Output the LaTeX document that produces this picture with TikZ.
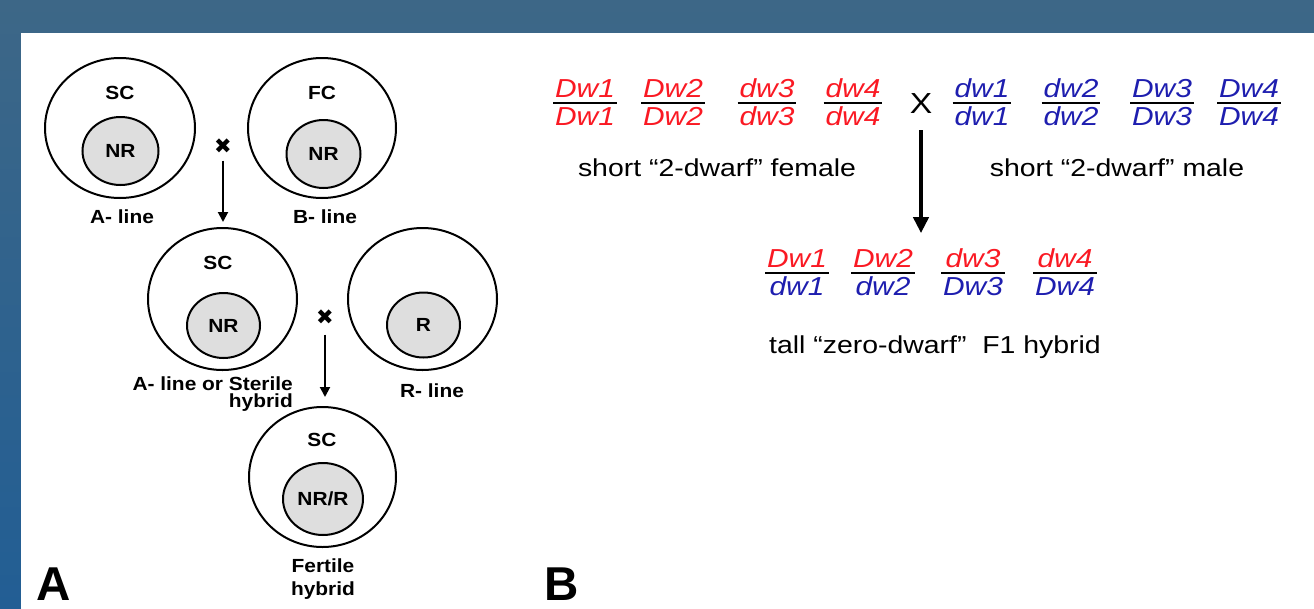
\documentclass[tikz,border=0pt]{standalone}
\usepackage{fontspec}
\setmainfont{Liberation Sans}
\newfontfamily\lblfont[FakeStretch=1.1]{Liberation Sans}
\newfontfamily\genefont[FakeStretch=1.15]{Liberation Sans}
\newfontfamily\capfont[FakeStretch=1.16]{Liberation Sans}
\newfontfamily\symfont{DejaVu Sans}
\usetikzlibrary{shapes.geometric,arrows.meta,fit}
\definecolor{bgtop}{HTML}{3D6787}
\definecolor{bgbot}{HTML}{225E94}
\definecolor{gred}{RGB}{250,25,35}
\definecolor{gblue}{RGB}{30,30,175}
\definecolor{ingray}{RGB}{222,222,222}
\tikzset{
 outerc/.style={ellipse, draw, line width=2pt, inner sep=0pt, outer sep=0pt},
 innerc/.style={ellipse, draw, line width=2pt, fill=ingray, inner sep=0pt, outer sep=0pt, font=\lblfont\bfseries\fontsize{19}{19}\selectfont},
 lbl/.style={font=\lblfont\bfseries\fontsize{19}{19}\selectfont, inner sep=0pt},
 crossmark/.style={font=\symfont\fontsize{21}{21}\selectfont, inner sep=0pt},
 arrA/.style={line width=2pt, -{Triangle[length=10pt,width=10pt]}},
 arrB/.style={line width=4.5pt, -{Triangle[length=16pt,width=15pt]}},
 gene/.style={font=\genefont\itshape\fontsize{26}{26}\selectfont, inner sep=1.5pt, anchor=base},
 captxt/.style={font=\capfont\fontsize{24.5}{25}\selectfont, inner sep=0pt, anchor=base},
 fracbar/.style={line width=2pt, black},
 panellbl/.style={font=\bfseries\fontsize{47.5}{48}\selectfont, inner sep=0pt, anchor=base},
}
\newcommand\genepair[7]{%
 \node[gene, text=#6] (#1n) at (#2,#3-6) {#4};
 \node[gene, text=#7] (#1d) at (#2,#3+22) {#5};
 \node[fit=(#1n)(#1d), inner sep=0pt] (#1) {};
 \coordinate (#1b) at (#2,#3);
 \draw[fracbar] (#1.west |- #1b) -- (#1.east |- #1b);
}
\begin{document}
\begin{tikzpicture}[x=1pt,y=-1pt]
\useasboundingbox (0,0) rectangle (1314,608);
\shade[top color=bgtop, bottom color=bgbot] (0,0) rectangle (1314,608);
\fill[white] (21,33) rectangle (1320,615);

% ---------- panel A ----------
\node[outerc, minimum width=150pt, minimum height=140pt] (c1) at (120,128) {};
\node[innerc, minimum width=76pt, minimum height=68pt] (i1) at (120.5,151) {NR};
\node[lbl] (s1) at (120,93) {SC};
\node[lbl] (l1) at (122,217) {A- line};

\node[outerc, minimum width=148pt, minimum height=140pt] (c2) at (322,128) {};
\node[innerc, minimum width=74pt, minimum height=68pt] (i2) at (323.5,154) {NR};
\node[lbl] (s2) at (322,93) {FC};
\node[lbl] (l2) at (325,217) {B- line};

\node[crossmark] (x1) at (223,146) {✖};

\node[outerc, minimum width=149pt, minimum height=142pt] (c3) at (222.5,299) {};
\node[innerc, minimum width=73pt, minimum height=65pt] (i3) at (223.5,325.5) {NR};
\node[lbl] (s3) at (218,263) {SC};
\node[lbl, align=right, anchor=east] (l3) at (293,394) {A- line or Sterile\\[-2pt]hybrid};

\node[outerc, minimum width=149pt, minimum height=142pt] (c4) at (422.5,299) {};
\node[innerc, minimum width=73pt, minimum height=65pt] (i4) at (423.5,325) {R};
\node[lbl] (l4) at (432,391) {R- line};

\node[crossmark] (x2) at (325,317) {✖};

\node[outerc, minimum width=147pt, minimum height=140pt] (c5) at (322.5,477) {};
\node[innerc, minimum width=80pt, minimum height=72pt] (i5) at (323,499) {NR/R};
\node[lbl] (s5) at (322,440) {SC};
\node[lbl, align=center] (l5) at (323,579.5) {Fertile\\[4pt]hybrid};

\draw[arrA, shorten <=7pt, shorten >=6pt] (x1.south) -- (x1.south |- c3.north);
\draw[arrA, shorten <=10pt, shorten >=10pt] (x2.south) -- (x2.south |- c5.north);

\node[panellbl] (pa) at (54,600) {A};
\node[panellbl] (pb) at (562,600) {B};

% ---------- panel B ----------
\genepair{f1}{585}{103}{Dw1}{Dw1}{gred}{gred}
\genepair{f2}{673}{103}{Dw2}{Dw2}{gred}{gred}
\genepair{f3}{767}{103}{dw3}{dw3}{gred}{gred}
\genepair{f4}{853}{103}{dw4}{dw4}{gred}{gred}
\genepair{m1}{982}{103}{dw1}{dw1}{gblue}{gblue}
\genepair{m2}{1071}{103}{dw2}{dw2}{gblue}{gblue}
\genepair{m3}{1162}{103}{Dw3}{Dw3}{gblue}{gblue}
\genepair{m4}{1249}{103}{Dw4}{Dw4}{gblue}{gblue}
\genepair{h1}{797}{273}{Dw1}{dw1}{gred}{gblue}
\genepair{h2}{883}{273}{Dw2}{dw2}{gred}{gblue}
\genepair{h3}{973}{273}{dw3}{Dw3}{gred}{gblue}
\genepair{h4}{1065}{273}{dw4}{Dw4}{gred}{gblue}

\node[captxt, font=\capfont\fontsize{29}{29}\selectfont] (cx) at (921,113) {X};
\node[captxt] (cf) at (717,176) {short “2-dwarf” female};
\node[captxt] (cm) at (1117,176) {short “2-dwarf” male};
\node[captxt] (ch) at (935,353) {tall “zero-dwarf”\ \ F1 hybrid};

\draw[arrB, shorten <=17pt, shorten >=14pt] (cx.south) -- (cx.south |- h2n.north);
\end{tikzpicture}
\end{document}
